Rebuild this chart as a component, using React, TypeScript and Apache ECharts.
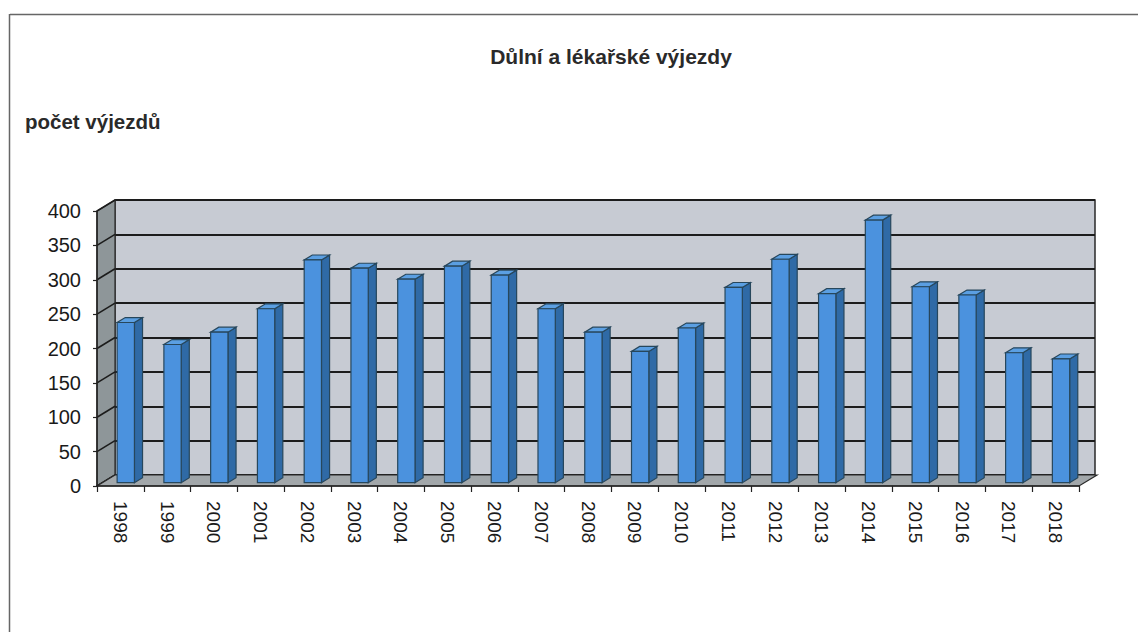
import React, { useEffect, useRef } from "react";
import * as echarts from "echarts";

const years = [
  "1998", "1999", "2000", "2001", "2002", "2003", "2004", "2005", "2006", "2007", "2008",
  "2009", "2010", "2011", "2012", "2013", "2014", "2015", "2016", "2017", "2018",
];
const departures = [
  233, 201, 219, 253, 324, 312, 296, 315, 302, 253, 219,
  191, 225, 284, 325, 275, 382, 285, 273, 189, 180,
];
const yMin = 0;
const yMax = 400;
const yStep = 50;
const yTicks = [0, 50, 100, 150, 200, 250, 300, 350, 400];

const titleText = "Důlní a lékařské výjezdy";
const yName = "počet výjezdů";

// depth offset of the 3D box (back plane relative to front plane)
const DX = 18;
const DY = -11;
const FONT = "'Liberation Sans', Arial, sans-serif";

export default function App() {
  const ref = useRef<HTMLDivElement>(null);

  useEffect(() => {
    if (!ref.current) return;
    const chart = echarts.init(ref.current, null, { renderer: "svg" });

    const frontGrid = { left: 97, top: 211, width: 982, height: 275 };
    const backGrid = {
      left: 97 + DX,
      top: 211 + DY,
      width: 980,
      height: 275,
    };

    const option: any = {
      animation: false,
      backgroundColor: "#ffffff",
      grid: [
        { ...frontGrid, show: false, containLabel: false },
        {
          ...backGrid,
          show: true,
          backgroundColor: "#c7cbd3",
          borderColor: "#2a2a2a",
          borderWidth: 1.5,
          containLabel: false,
        },
      ],
      xAxis: [
        {
          type: "category",
          gridIndex: 0,
          data: years,
          boundaryGap: true,
          axisLine: { show: true, lineStyle: { color: "#222", width: 1.5 } },
          axisTick: { show: true, length: 6, lineStyle: { color: "#222", width: 1.2 } },
          axisLabel: {
            rotate: -90,
            margin: 15,
            fontSize: 19,
            color: "#1a1a1a",
            fontFamily: FONT,
            interval: 0,
          },
          splitLine: { show: false },
          z: 20,
        },
        {
          type: "category",
          gridIndex: 1,
          data: years,
          boundaryGap: true,
          axisLine: { show: false },
          axisTick: { show: false },
          axisLabel: { show: false },
          splitLine: { show: false },
        },
      ],
      yAxis: [
        {
          type: "value",
          gridIndex: 0,
          min: yMin,
          max: yMax,
          interval: yStep,
          axisLine: { show: true, lineStyle: { color: "#222", width: 1.5 } },
          axisTick: { show: true, length: 4, lineStyle: { color: "#222", width: 1.2 } },
          axisLabel: {
            margin: 16,
            fontSize: 20,
            color: "#1a1a1a",
            fontFamily: FONT,
          },
          splitLine: { show: false },
          z: 20,
        },
        {
          type: "value",
          gridIndex: 1,
          min: yMin,
          max: yMax,
          interval: yStep,
          axisLine: { show: false },
          axisTick: { show: false },
          axisLabel: { show: false },
          splitLine: { show: true, lineStyle: { color: "#1c1c1c", width: 2 } },
        },
      ],
      graphic: [
        {
          type: "line",
          shape: { x1: 10, y1: 14.5, x2: 1138, y2: 14.5 },
          style: { stroke: "#666", lineWidth: 1.5 },
        },
        {
          type: "line",
          shape: { x1: 9.5, y1: 14, x2: 9.5, y2: 632 },
          style: { stroke: "#666", lineWidth: 1.5 },
        },
        {
          type: "text",
          x: 611,
          y: 56,
          style: {
            text: titleText,
            fontSize: 21,
            fontWeight: "bold",
            fontFamily: FONT,
            fill: "#2a2a2a",
            align: "center",
            verticalAlign: "middle",
          },
        },
        {
          type: "text",
          x: 25,
          y: 121,
          style: {
            text: yName,
            fontSize: 20.5,
            fontWeight: "bold",
            fontFamily: FONT,
            fill: "#2a2a2a",
            align: "left",
            verticalAlign: "middle",
          },
        },
      ],
      series: [
        {
          type: "custom",
          name: "walls",
          xAxisIndex: 0,
          yAxisIndex: 0,
          z: 3,
          silent: true,
          data: [[0, 0]],
          renderItem: (params: any, api: any) => {
            const band = api.size([1, 0])[0];
            const first = api.coord([0, yMin]);
            const last = api.coord([years.length - 1, yMin]);
            const x0 = first[0] - band / 2;
            const x1 = last[0] + band / 2;
            const yb = first[1];
            const yt = api.coord([0, yMax])[1];
            const children: any[] = [];
            // left wall
            children.push({
              type: "polygon",
              shape: {
                points: [
                  [x0, yb],
                  [x0, yt],
                  [x0 + DX, yt + DY],
                  [x0 + DX, yb + DY],
                ],
              },
              style: { fill: "#8e9699", stroke: "#2a2a2a", lineWidth: 1.2 },
            });
            // left wall grid lines
            yTicks.forEach((v) => {
              const y = api.coord([0, v])[1];
              children.push({
                type: "line",
                shape: { x1: x0, y1: y, x2: x0 + DX, y2: y + DY },
                style: { stroke: "#1c1c1c", lineWidth: 1.6 },
              });
            });
            // floor
            children.push({
              type: "polygon",
              shape: {
                points: [
                  [x0, yb],
                  [x1, yb],
                  [x1 + DX, yb + DY],
                  [x0 + DX, yb + DY],
                ],
              },
              style: { fill: "#a2a7aa", stroke: "#2a2a2a", lineWidth: 1.2 },
            });
            return { type: "group", children };
          },
        },
        {
          type: "custom",
          name: "výjezdy",
          xAxisIndex: 0,
          yAxisIndex: 0,
          z: 5,
          data: departures.map((v, i) => [i, v]),
          encode: { x: 0, y: 1 },
          renderItem: (params: any, api: any) => {
            const i = api.value(0);
            const v = api.value(1);
            const base = api.coord([i, yMin]);
            const top = api.coord([i, v]);
            const band = api.size([1, 0])[0];
            const w = band * 0.37;
            const f = 0.3;
            const sx = DX * f;
            const sy = DY * f;
            const dx = DX * 0.45;
            const dy = DY * 0.45;
            const fx = base[0] - w / 2 + sx;
            const by = base[1] + sy;
            const ty = top[1] + sy;
            const edge = "#27475c";
            return {
              type: "group",
              children: [
                {
                  type: "polygon",
                  shape: {
                    points: [
                      [fx + w, by],
                      [fx + w, ty],
                      [fx + w + dx, ty + dy],
                      [fx + w + dx, by + dy],
                    ],
                  },
                  style: { fill: "#2f6aa6", stroke: edge, lineWidth: 1.2 },
                },
                {
                  type: "polygon",
                  shape: {
                    points: [
                      [fx, ty],
                      [fx + w, ty],
                      [fx + w + dx, ty + dy],
                      [fx + dx, ty + dy],
                    ],
                  },
                  style: { fill: "#5b9fe2", stroke: edge, lineWidth: 1.2 },
                },
                {
                  type: "rect",
                  shape: { x: fx, y: ty, width: w, height: by - ty },
                  style: { fill: "#4b92de", stroke: edge, lineWidth: 1.2 },
                },
              ],
            };
          },
        },
      ],
    };

    chart.setOption(option);
    return () => {
      chart.dispose();
    };
  }, []);

  return (
    <div
      ref={ref}
      style={{ position: "absolute", left: 0, top: 0, width: 1138, height: 632 }}
    />
  );
}
